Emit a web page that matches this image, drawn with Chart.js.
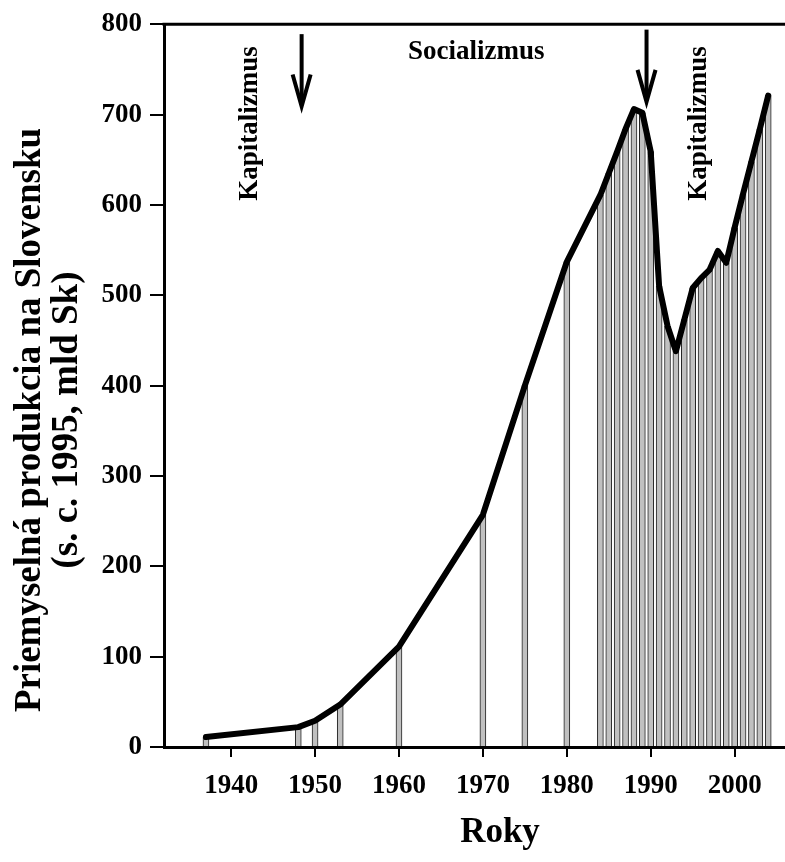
<!DOCTYPE html>
<html>
<head>
<meta charset="utf-8">
<script src="https://cdn.jsdelivr.net/npm/chart.js@4"></script>
<style>
  html, body { margin: 0; padding: 0; background: #fff; }
  #wrap { width: 785px; height: 862px; position: relative; }
</style>
</head>
<body>
<div id="wrap"><canvas id="grafik"></canvas></div>
<script>
// roky a hodnoty (s. c. 1995, mld Sk)
var roky = [1937, 1948, 1950, 1953, 1960, 1970, 1975, 1980,
    1984, 1985, 1986, 1987, 1988, 1989, 1990, 1991, 1992, 1993, 1994,
    1995, 1996, 1997, 1998, 1999, 2000, 2001, 2002, 2003, 2004];
var produkcia = [11, 22, 29, 47, 111, 257, 400, 537,
    611, 635, 659, 684, 706, 702, 659, 510, 466, 438, 473,
    508, 519, 528, 549, 536, 575, 612, 648, 684, 721];
var xTicks = [1940, 1950, 1960, 1970, 1980, 1990, 2000];
var yTicks = [0, 100, 200, 300, 400, 500, 600, 700, 800];

var serif = "'Liberation Serif', 'Times New Roman', serif";

// popisky a sipky v grafe (x = rok, y = hodnota)
var popisky = [
    {text: 'Kapitalizmus', x: 1942.2, y: 690, rot: true},
    {text: 'Socializmus', x: 1969.2, y: 769, rot: false},
    {text: 'Kapitalizmus', x: 1995.8, y: 690, rot: true}
];
var sipky = [
    {x: 1948.4, from: 789, to: 709},
    {x: 1989.5, from: 794, to: 714}
];
var yTitul = ['Priemyselná produkcia na Slovensku', '(s. c. 1995, mld Sk)'];
var xTitul = 'Roky';

var body = roky.map(function(r, i){ return {x: r, y: produkcia[i]}; });

var kresli = {
    id: 'kresli',
    afterDatasetsDraw: function(chart){
        var ctx = chart.ctx;
        var xs = chart.scales.x, ys = chart.scales.y;
        var a = chart.chartArea;
        ctx.save();
        // horna ciara
        ctx.strokeStyle = '#000';
        ctx.lineWidth = 3;
        ctx.beginPath();
        ctx.moveTo(a.left - 1.5, a.top);
        ctx.lineTo(a.right, a.top);
        ctx.stroke();

        // sipky
        ctx.lineWidth = 4;
        ctx.lineJoin = 'miter';
        sipky.forEach(function(s){
            var x = xs.getPixelForValue(s.x);
            var y1 = ys.getPixelForValue(s.from);
            var y2 = ys.getPixelForValue(s.to);
            ctx.beginPath();
            ctx.moveTo(x, y1);
            ctx.lineTo(x, y2 - 2);
            ctx.stroke();
            ctx.beginPath();
            ctx.moveTo(x - 9, y2 - 32);
            ctx.lineTo(x, y2);
            ctx.lineTo(x + 9, y2 - 32);
            ctx.stroke();
        });

        // texty
        ctx.fillStyle = '#000';
        ctx.font = 'bold 27px ' + serif;
        ctx.textAlign = 'center';
        ctx.textBaseline = 'middle';
        popisky.forEach(function(p){
            var x = xs.getPixelForValue(p.x);
            var y = ys.getPixelForValue(p.y);
            ctx.save();
            ctx.translate(x, y);
            if (p.rot) ctx.rotate(-Math.PI / 2);
            ctx.fillText(p.text, 0, 0);
            ctx.restore();
        });

        // nazvy osi
        ctx.font = 'bold 37px ' + serif;
        ctx.save();
        ctx.translate(30, 420);
        ctx.rotate(-Math.PI / 2);
        ctx.fillText(yTitul[0], 0, 0);
        ctx.fillText(yTitul[1], 0, 37);
        ctx.restore();
        ctx.font = 'bold 35px ' + serif;
        ctx.fillText(xTitul, 500, 833);
        ctx.restore();
    }
};

var ctx = document.getElementById('grafik');
var graf = new Chart(ctx, {
    data: {
        datasets: [
            {
                type: 'line',
                data: body,
                borderColor: '#000',
                borderWidth: 6,
                borderJoinStyle: 'round',
                borderCapStyle: 'round',
                pointRadius: 0,
                tension: 0,
                order: 0
            },
            {
                type: 'bar',
                data: body,
                backgroundColor: '#c0c0c0',
                borderColor: '#222',
                borderWidth: 1,
                barThickness: 6,
                order: 1
            }
        ]
    },
    options: {
        responsive: true,
        maintainAspectRatio: false,
        animation: false,
        layout: { padding: { top: 20, right: 0, left: 0, bottom: 0 } },
        plugins: {
            legend: { display: false },
            tooltip: { enabled: false }
        },
        scales: {
            x: {
                type: 'linear',
                min: 1932,
                max: 2006,
                offset: false,
                afterBuildTicks: function(s){ s.ticks = xTicks.map(function(v){ return {value: v}; }); },
                afterFit: function(s){ s.height = 115; },
                ticks: {
                    color: '#000',
                    font: { family: serif, size: 27, weight: 'bold' },
                    padding: 13,
                    maxRotation: 0,
                    callback: function(v){ return String(v); }
                },
                grid: { offset: false, drawOnChartArea: false, tickLength: 10, color: '#000', lineWidth: 2 },
                border: { display: true, color: '#000', width: 3 }
            },
            y: {
                min: 0,
                max: 800,
                afterBuildTicks: function(s){ s.ticks = yTicks.map(function(v){ return {value: v}; }); },
                afterFit: function(s){ s.width = 164; },
                ticks: {
                    color: '#000',
                    font: { family: serif, size: 27, weight: 'bold' },
                    padding: 8,
                    callback: function(v){ return String(v); }
                },
                grid: { drawOnChartArea: false, tickLength: 14, color: '#000', lineWidth: 2 },
                border: { display: true, color: '#000', width: 3 }
            }
        }
    },
    plugins: [kresli]
});
</script>
</body>
</html>
